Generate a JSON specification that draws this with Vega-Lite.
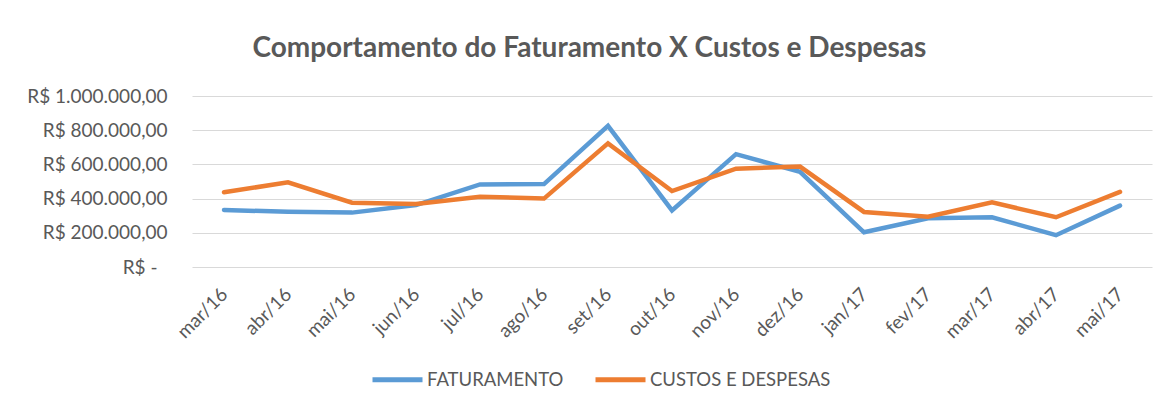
{
  "$schema": "https://vega.github.io/schema/vega-lite/v6.json",
  "width": 960,
  "height": 171,
  "autosize": {"type": "none"},
  "padding": {"left": 192, "top": 96, "right": 13, "bottom": 140},
  "background": "white",
  "config": {
    "locale": {"number": {"decimal": ",", "thousands": ".", "grouping": [3], "currency": ["R$ ", ""]}},
    "view": {"stroke": null},
    "font": "Lato"
  },
  "title": {
    "text": "Comportamento do Faturamento X Custos e Despesas",
    "font": "Lato",
    "fontSize": 28,
    "fontWeight": "bold",
    "color": "#595959",
    "anchor": "middle",
    "frame": "bounds",
    "offset": 24
  },
  "data": {
    "values": [
      {"mes": "mar/16", "serie": "FATURAMENTO", "valor": 333000},
      {"mes": "abr/16", "serie": "FATURAMENTO", "valor": 323000},
      {"mes": "mai/16", "serie": "FATURAMENTO", "valor": 318000},
      {"mes": "jun/16", "serie": "FATURAMENTO", "valor": 362000},
      {"mes": "jul/16", "serie": "FATURAMENTO", "valor": 483000},
      {"mes": "ago/16", "serie": "FATURAMENTO", "valor": 485000},
      {"mes": "set/16", "serie": "FATURAMENTO", "valor": 825000},
      {"mes": "out/16", "serie": "FATURAMENTO", "valor": 331000},
      {"mes": "nov/16", "serie": "FATURAMENTO", "valor": 660000},
      {"mes": "dez/16", "serie": "FATURAMENTO", "valor": 557000},
      {"mes": "jan/17", "serie": "FATURAMENTO", "valor": 203000},
      {"mes": "fev/17", "serie": "FATURAMENTO", "valor": 285000},
      {"mes": "mar/17", "serie": "FATURAMENTO", "valor": 291000},
      {"mes": "abr/17", "serie": "FATURAMENTO", "valor": 186000},
      {"mes": "mai/17", "serie": "FATURAMENTO", "valor": 359000},
      {"mes": "mar/16", "serie": "CUSTOS E DESPESAS", "valor": 437000},
      {"mes": "abr/16", "serie": "CUSTOS E DESPESAS", "valor": 495000},
      {"mes": "mai/16", "serie": "CUSTOS E DESPESAS", "valor": 376000},
      {"mes": "jun/16", "serie": "CUSTOS E DESPESAS", "valor": 368000},
      {"mes": "jul/16", "serie": "CUSTOS E DESPESAS", "valor": 411000},
      {"mes": "ago/16", "serie": "CUSTOS E DESPESAS", "valor": 400000},
      {"mes": "set/16", "serie": "CUSTOS E DESPESAS", "valor": 723000},
      {"mes": "out/16", "serie": "CUSTOS E DESPESAS", "valor": 444000},
      {"mes": "nov/16", "serie": "CUSTOS E DESPESAS", "valor": 575000},
      {"mes": "dez/16", "serie": "CUSTOS E DESPESAS", "valor": 587000},
      {"mes": "jan/17", "serie": "CUSTOS E DESPESAS", "valor": 322000},
      {"mes": "fev/17", "serie": "CUSTOS E DESPESAS", "valor": 294000},
      {"mes": "mar/17", "serie": "CUSTOS E DESPESAS", "valor": 378000},
      {"mes": "abr/17", "serie": "CUSTOS E DESPESAS", "valor": 291000},
      {"mes": "mai/17", "serie": "CUSTOS E DESPESAS", "valor": 439000}
    ]
  },
  "mark": {"type": "line", "strokeWidth": 4.5, "strokeCap": "round", "strokeJoin": "miter"},
  "encoding": {
    "x": {
      "field": "mes",
      "type": "nominal",
      "sort": ["mar/16", "abr/16", "mai/16", "jun/16", "jul/16", "ago/16", "set/16", "out/16", "nov/16", "dez/16", "jan/17", "fev/17", "mar/17", "abr/17", "mai/17"],
      "scale": {"paddingInner": 0, "paddingOuter": 0.5},
      "axis": {
        "title": null,
        "labelAngle": -45,
        "labelAlign": "right",
        "labelBaseline": "middle",
        "labelFont": "Lato",
        "labelFontSize": 19,
        "labelColor": "#595959",
        "labelPadding": 24,
        "ticks": false,
        "domain": false,
        "grid": false
      }
    },
    "y": {
      "field": "valor",
      "type": "quantitative",
      "scale": {"domain": [0, 1000000], "nice": false},
      "axis": {
        "title": null,
        "values": [0, 200000, 400000, 600000, 800000, 1000000],
        "format": ",.2f",
        "labelExpr": "datum.value == 0 ? 'R$ -' : 'R$ ' + datum.label",
        "labelFont": "Lato",
        "labelFontSize": 19,
        "labelColor": "#595959",
        "labelPadding": {"condition": {"test": "datum.value == 0", "value": 35}, "value": 25},
        "ticks": false,
        "domain": false,
        "grid": true,
        "gridColor": "#D9D9D9",
        "gridWidth": 1.2
      }
    },
    "color": {
      "field": "serie",
      "type": "nominal",
      "sort": ["FATURAMENTO", "CUSTOS E DESPESAS"],
      "scale": {"domain": ["FATURAMENTO", "CUSTOS E DESPESAS"], "range": ["#5B9BD5", "#ED7D31"]},
      "legend": {
        "title": null,
        "orient": "none",
        "direction": "horizontal",
        "legendX": 178,
        "legendY": 256,
        "symbolType": "stroke",
        "symbolSize": 2500,
        "symbolStrokeWidth": 5,
        "labelFont": "Lato",
        "labelFontSize": 18.5,
        "labelColor": "#595959",
        "labelOffset": 2,
        "labelLimit": 400,
        "columnPadding": 21
      }
    }
  }
}
